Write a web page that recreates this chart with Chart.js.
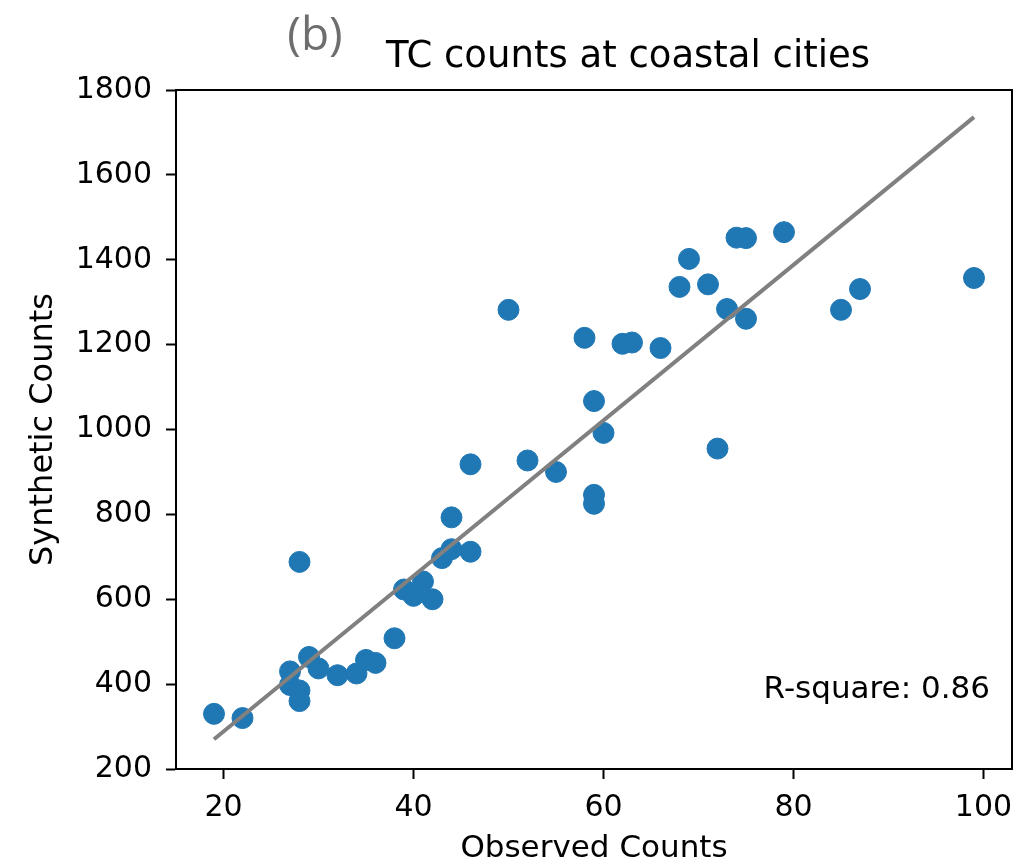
<!DOCTYPE html>
<html>
<head>
<meta charset="utf-8">
<script src="https://cdn.jsdelivr.net/npm/chart.js@4/dist/chart.umd.min.js"></script>
<style>
  html, body { margin: 0; padding: 0; background: #fff; }
  canvas { display: block; }
</style>
</head>
<body>
<canvas id="scatterChart" width="1014" height="864"></canvas>
<script>
// Dados
const observed = [19, 22, 27, 27, 28, 28, 28, 29, 30, 32, 34, 35, 36, 38, 39, 40, 41, 42, 43, 44, 44, 46, 46,
  50, 52, 55, 58, 59, 59, 59, 60, 62, 63, 66, 68, 69, 71, 72, 73, 74, 75, 75, 79, 85, 87, 99];
const synthetic = [330, 320, 430, 398, 688, 385, 360, 464, 437, 421, 425, 457, 450, 508, 623, 608, 642, 600, 697, 718, 793, 712, 918,
  1282, 927, 900, 1216, 1067, 846, 825, 992, 1202, 1205, 1192, 1336, 1402, 1342, 955, 1284, 1452, 1451, 1261, 1465, 1282, 1331, 1357];
const fitX = [19, 99];
const fitY = [270, 1736];
const xTicks = [20, 40, 60, 80, 100];
const yTicks = [200, 400, 600, 800, 1000, 1200, 1400, 1600, 1800];
const rSquare = 0.86;

const FONT = "'DejaVu Sans', sans-serif";

// textos e moldura
const extras = {
  id: 'extras',
  afterDraw(chart) {
    const ctx = chart.ctx;
    const a = chart.chartArea;
    ctx.save();
    ctx.strokeStyle = '#000';
    ctx.lineWidth = 2;
    ctx.strokeRect(a.left, a.top, a.right - a.left, a.bottom - a.top);

    ctx.fillStyle = '#000';
    ctx.textBaseline = 'middle';
    ctx.textAlign = 'center';
    ctx.font = '37px ' + FONT;
    ctx.fillText('TC counts at coastal cities', 628, 57);

    ctx.fillStyle = '#6e6e6e';
    ctx.font = '46px "Open Sans", sans-serif';
    ctx.fillText('(b)', 315, 37);

    ctx.fillStyle = '#000';
    ctx.textAlign = 'right';
    ctx.font = '31px ' + FONT;
    ctx.fillText('R-square: ' + rSquare.toFixed(2), 990, 690);
    ctx.restore();
  }
};

const data = {
  datasets: [{
    type: 'line',
    label: 'fit',
    data: fitX.map((x, i) => ({ x: x, y: fitY[i] })),
    borderColor: '#808080',
    borderWidth: 4,
    pointRadius: 0,
    order: 0
  }, {
    type: 'scatter',
    label: 'cities',
    data: observed.map((x, i) => ({ x: x, y: synthetic[i] })),
    backgroundColor: '#1f77b4',
    borderColor: '#1f77b4',
    borderWidth: 1,
    pointRadius: 10.5,
    order: 1
  }]
};

const config = {
  type: 'scatter',
  data: data,
  plugins: [extras],
  options: {
    responsive: false,
    animation: false,
    layout: { autoPadding: false, padding: { top: 90, right: 2, left: 0, bottom: 0 } },
    plugins: {
      legend: { display: false },
      tooltip: { enabled: false }
    },
    scales: {
      x: {
        type: 'linear',
        min: 15,
        max: 103,
        afterBuildTicks: (s) => { s.ticks = xTicks.map(v => ({ value: v })); },
        afterFit: (s) => { s.height = 95; s.paddingLeft = 0; s.paddingRight = 0; },
        grid: { drawOnChartArea: false, tickLength: 10, tickColor: '#000', tickWidth: 2 },
        border: { color: '#000', width: 2 },
        ticks: { color: '#000', font: { family: FONT, size: 30 }, padding: 11, maxRotation: 0,
                 callback: (v) => String(v) },
        title: { display: true, text: 'Observed Counts', color: '#000',
                 font: { family: FONT, size: 31, lineHeight: 1.0 }, padding: { top: 0, bottom: 0 } }
      },
      y: {
        type: 'linear',
        min: 200,
        max: 1800,
        afterBuildTicks: (s) => { s.ticks = yTicks.map(v => ({ value: v })); },
        afterFit: (s) => { s.width = 176; },
        grid: { drawOnChartArea: false, tickLength: 10, tickColor: '#000', tickWidth: 2 },
        border: { color: '#000', width: 2 },
        ticks: { color: '#000', font: { family: FONT, size: 30 }, padding: 14,
                 callback: (v) => String(v) },
        title: { display: true, text: 'Synthetic Counts', color: '#000',
                 font: { family: FONT, size: 32, lineHeight: 1.0 }, padding: { top: 28, bottom: 0 } }
      }
    }
  }
};

const ctx = document.getElementById('scatterChart').getContext('2d');
new Chart(ctx, config);
</script>
</body>
</html>
